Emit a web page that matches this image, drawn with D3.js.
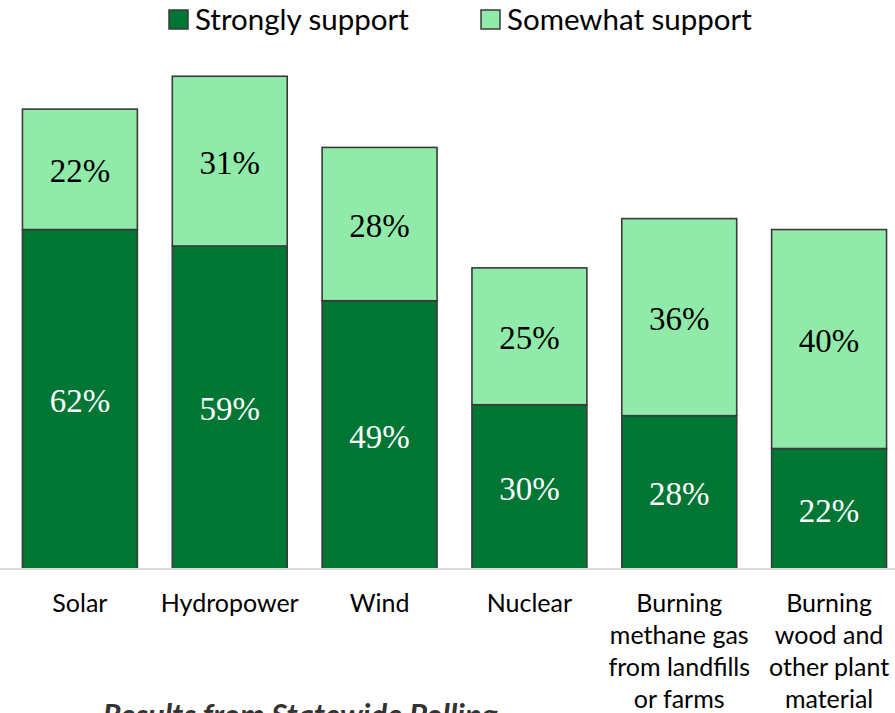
<!DOCTYPE html>
<html>
<head>
<meta charset="utf-8">
<script src="https://cdn.jsdelivr.net/npm/d3@7"></script>
<style>
  html, body { margin: 0; padding: 0; background: #fff; overflow: hidden; }
  svg { display: block; }
</style>
</head>
<body>
<svg id="chart" width="895" height="713"></svg>
<script>
const categories = [
  ["Solar"],
  ["Hydropower"],
  ["Wind"],
  ["Nuclear"],
  ["Burning", "methane gas", "from landfills", "or farms"],
  ["Burning", "wood and", "other plant", "material"]
];
const strongly = [62, 59, 49, 30, 28, 22];
const somewhat = [22, 31, 28, 25, 36, 40];
const seriesNames = ["Strongly support", "Somewhat support"];
const colors = ["#007635", "#90ebaa"];
const title = "Results from Statewide Polling";

const svg = d3.select("#chart");
const W = 895, H = 713;
const baseY = 569;

const keys = categories.map((c, i) => c.join(" "));
const x = d3.scaleBand().domain(keys).range([5, 904]).paddingInner(0.233).paddingOuter(0.1165);
const y = d3.scaleLinear().domain([0, 100]).range([baseY, baseY - 547.5]);

const rows = keys.map((k, i) => ({ key: k, strong: strongly[i], some: somewhat[i] }));
const stack = d3.stack().keys(["strong", "some"])(rows);

const labelFont = "Lato, 'Open Sans', sans-serif";
const numFont = "'Liberation Serif', 'DejaVu Serif', serif";

// bars
stack.forEach((layer, li) => {
  const g = svg.append("g");
  g.selectAll("rect").data(layer).join("rect")
    .attr("x", d => x(d.data.key))
    .attr("width", x.bandwidth())
    .attr("y", d => y(d[1]))
    .attr("height", d => y(d[0]) - y(d[1]))
    .attr("fill", colors[li])
    .attr("stroke", "#3a3a3a")
    .attr("stroke-width", 1.6);
  g.selectAll("text").data(layer).join("text")
    .attr("x", d => x(d.data.key) + x.bandwidth() / 2)
    .attr("y", d => (y(d[0]) + y(d[1])) / 2 + 13)
    .attr("text-anchor", "middle")
    .attr("font-family", numFont)
    .attr("font-size", 33)
    .attr("fill", li === 0 ? "#ffffff" : "#000000")
    .text(d => (d[1] - d[0]) + "%");
});

// axis line
const xAxis = d3.axisBottom(x).tickSize(0).tickFormat(() => "");
const ax = svg.append("g").attr("transform", `translate(0,${baseY})`).call(xAxis);
ax.select(".domain").attr("d", `M0,0H${W}`).attr("stroke", "#d9d9d9").attr("stroke-width", 2);

// category labels
const lab = svg.append("g");
categories.forEach((lines, i) => {
  const t = lab.append("text")
    .attr("x", x(keys[i]) + x.bandwidth() / 2)
    .attr("y", 612)
    .attr("text-anchor", "middle")
    .attr("font-family", labelFont)
    .attr("font-size", 25)
    .attr("fill", "#000");
  lines.forEach((ln, j) => {
    t.append("tspan").attr("x", x(keys[i]) + x.bandwidth() / 2).attr("dy", j === 0 ? 0 : 32).text(ln);
  });
});

// legend
const legendItems = [
  { name: seriesNames[0], color: colors[0], x: 168 },
  { name: seriesNames[1], color: colors[1], x: 480 }
];
const lg = svg.append("g");
legendItems.forEach(it => {
  lg.append("rect").attr("x", it.x + 1).attr("y", 10).attr("width", 19).attr("height", 19)
    .attr("fill", it.color).attr("stroke", "#3a3a3a").attr("stroke-width", 1.5);
  lg.append("text").attr("x", it.x + 27).attr("y", 30)
    .attr("font-family", labelFont).attr("font-size", 29.5).attr("fill", "#000").text(it.name);
});

// title (partly cut off at bottom, as in the reference)
svg.append("text").attr("x", 300).attr("y", 726)
  .attr("text-anchor", "middle")
  .attr("font-family", labelFont)
  .attr("font-weight", "bold").attr("font-style", "italic")
  .attr("font-size", 31).attr("fill", "#333").text(title);
</script>
</body>
</html>
